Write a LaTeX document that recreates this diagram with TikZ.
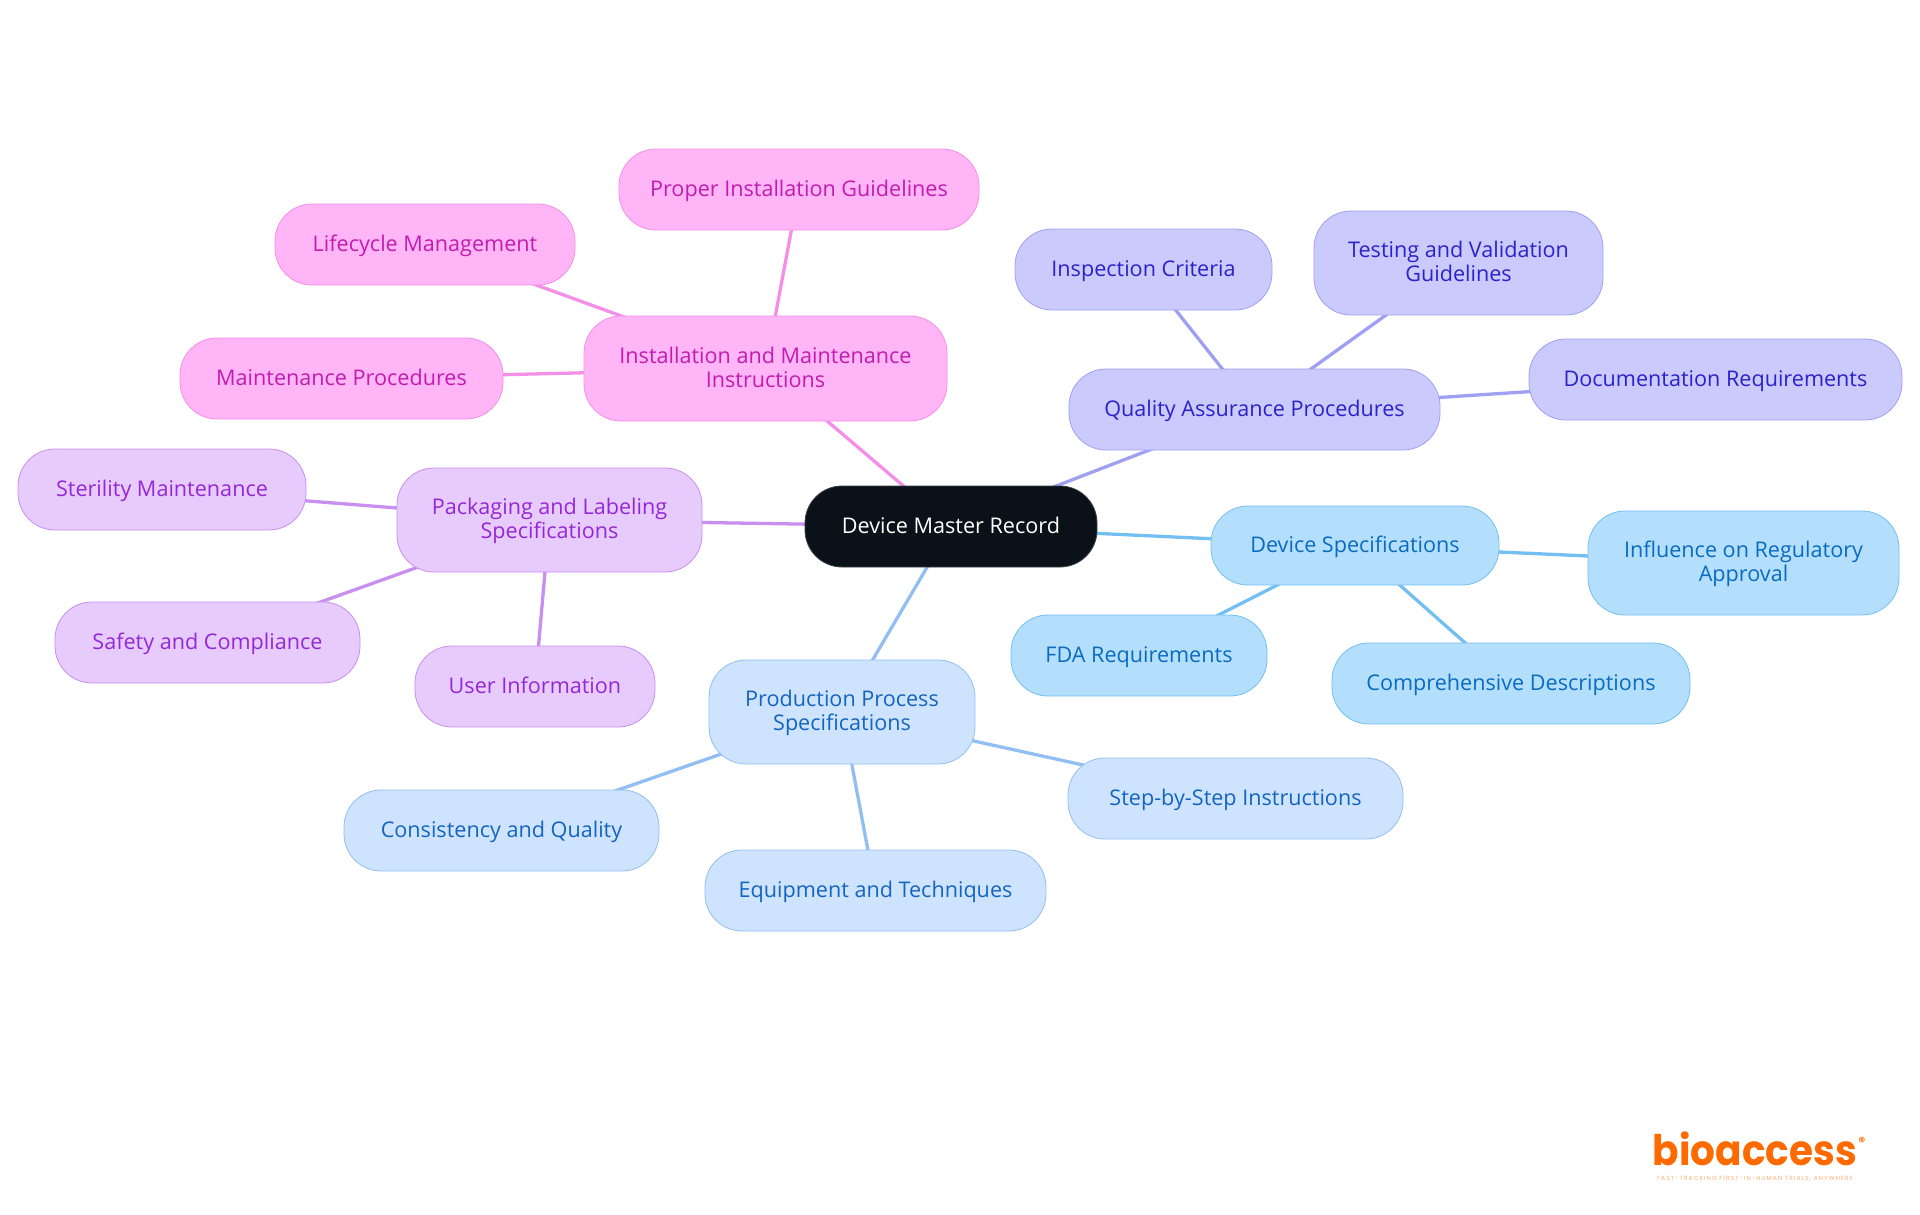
\documentclass[tikz,border=0pt]{standalone}
\usepackage{fontspec}
\setmainfont{Open Sans}
\newfontfamily\logofont{Poppins}
\newfontfamily\tagfont[LetterSpace=18]{Poppins}
\usetikzlibrary{backgrounds}
\definecolor{pkfill}{HTML}{FFB5F6}\definecolor{pkline}{HTML}{F48FE8}\definecolor{pktext}{HTML}{C21CB0}
\definecolor{pufill}{HTML}{E7CBFD}\definecolor{puline}{HTML}{C88FF0}\definecolor{putext}{HTML}{9528D6}
\definecolor{sbfill}{HTML}{CEE3FD}\definecolor{sbline}{HTML}{92BFF2}\definecolor{sbtext}{HTML}{1565C0}
\definecolor{blfill}{HTML}{B3DFFD}\definecolor{blline}{HTML}{73BFF2}\definecolor{bltext}{HTML}{0A6BBF}
\definecolor{vifill}{HTML}{CACAFD}\definecolor{viline}{HTML}{A0A0F2}\definecolor{vitext}{HTML}{2C22C8}
\definecolor{rootfill}{HTML}{0A1119}
\definecolor{logo}{HTML}{FF6A00}
\tikzset{
  x=1pt,y=-1pt,
  box/.style={rounded corners=37pt,draw,line width=0.8pt,align=center,font=\fontsize{21.6}{24}\selectfont,inner sep=0pt},
  pk/.style={box,fill=pkfill,draw=pkline,text=pktext},
  pu/.style={box,fill=pufill,draw=puline,text=putext},
  sb/.style={box,fill=sbfill,draw=sbline,text=sbtext},
  bl/.style={box,fill=blfill,draw=blline,text=bltext},
  vi/.style={box,fill=vifill,draw=viline,text=vitext},
  rootbox/.style={box,fill=rootfill,draw=rootfill!80!white,text=white},
  lnk/.style={line width=3.3pt},
}
\newcommand{\bx}[7]{\node[#2,minimum width=#5pt-#3pt,minimum height=#6pt-#4pt] (#1) at ({(#3+#5)/2},{(#4+#6)/2}) {\rule{0pt}{19pt}#7\vphantom{Ag}};}
\begin{document}
\begin{tikzpicture}
\useasboundingbox (0,0) rectangle (1920,1215);
\bx{root}{rootbox}{805}{486}{1097}{567}{Device Master Record}
\bx{inst}{pk}{584}{316}{947}{421}{Installation and Maintenance\\Instructions}
\bx{prop}{pk}{619}{149}{979}{230}{Proper Installation Guidelines}
\bx{life}{pk}{275}{204}{575}{285}{Lifecycle Management}
\bx{main}{pk}{180}{338}{503}{419}{Maintenance Procedures}
\bx{pack}{pu}{397}{468}{702}{572}{Packaging and Labeling\\Specifications}
\bx{ster}{pu}{18}{449}{306}{530}{Sterility Maintenance}
\bx{safe}{pu}{55}{602}{360}{683}{Safety and Compliance}
\bx{user}{pu}{415}{646}{655}{727}{User Information}
\bx{prod}{sb}{709}{660}{975}{764}{Production Process\\Specifications}
\bx{cons}{sb}{344}{790}{659}{871}{Consistency and Quality}
\bx{equi}{sb}{705}{850}{1046}{931}{Equipment and Techniques}
\bx{step}{sb}{1068}{758}{1403}{839}{Step-by-Step Instructions}
\bx{devs}{bl}{1211}{506}{1499}{585}{Device Specifications}
\bx{infl}{bl}{1588}{511}{1899}{615}{Influence on Regulatory\\Approval}
\bx{fda}{bl}{1011}{615}{1267}{696}{FDA Requirements}
\bx{comp}{bl}{1332}{643}{1690}{724}{Comprehensive Descriptions}
\bx{qa}{vi}{1069}{369}{1440}{450}{Quality Assurance Procedures}
\bx{insp}{vi}{1015}{229}{1272}{310}{Inspection Criteria}
\bx{test}{vi}{1314}{211}{1603}{315}{Testing and Validation\\Guidelines}
\bx{docu}{vi}{1529}{339}{1902}{420}{Documentation Requirements}
\begin{pgfonlayer}{background}
\draw[lnk,pkline] (root.center)--(inst.center) (inst.center)--(prop.center) (inst.center)--(life.center) (inst.center)--(main.center);
\draw[lnk,puline] (root.center)--(pack.center) (pack.center)--(ster.center) (pack.center)--(safe.center) (pack.center)--(user.center);
\draw[lnk,sbline] (root.center)--(prod.center) (prod.center)--(cons.center) (prod.center)--(equi.center) (prod.center)--(step.center);
\draw[lnk,blline] (root.center)--(devs.center) (devs.center)--(infl.center) (devs.center)--(fda.center) (devs.center)--(comp.center);
\draw[lnk,viline] (root.center)--(qa.center) (qa.center)--(insp.center) (qa.center)--(test.center) (qa.center)--(docu.center);
\end{pgfonlayer}
\node[text=logo,inner sep=0pt,font=\logofont\bfseries\fontsize{39}{40}\selectfont] (logotext) at (1755,1149) {\scalebox{1}[1.08]{bioaccess}};
\node[text=logo,inner sep=0pt,font=\logofont\bfseries\fontsize{13}{13}\selectfont] (logoreg) at (1862,1142) {®};
\node[text=logo!55!white,inner sep=0pt,font=\tagfont\fontsize{6}{6}\selectfont] (logotag) at (1755,1178.5) {FAST-TRACKING FIRST-IN-HUMAN TRIALS, ANYWHERE};
\end{tikzpicture}
\end{document}
